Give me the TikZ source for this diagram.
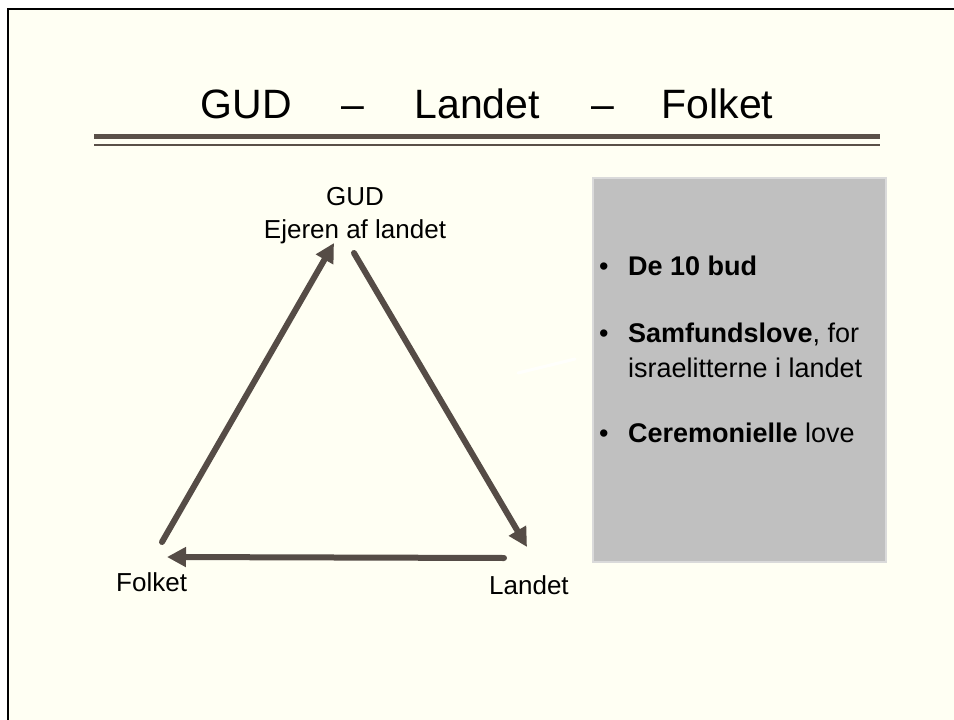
\documentclass[tikz,border=0pt]{standalone}
\usepackage{fontspec}
\setmainfont{Liberation Sans}
\usetikzlibrary{arrows.meta}
\definecolor{bg}{HTML}{FFFFF3}
\definecolor{arr}{HTML}{554C46}
\definecolor{rulecol}{HTML}{5A5048}
\definecolor{boxfill}{HTML}{C0C0C0}
\definecolor{boxline}{HTML}{DADADA}
\begin{document}
\begin{tikzpicture}[x=1pt,y=-1pt,
  conn/.style={draw=arr, line width=6pt, line cap=round, -{Triangle[length=19pt,width=19pt]}},
  lbl/.style={font=\fontsize{26}{32}\selectfont, inner sep=0pt},
  ttl/.style={font=\fontsize{41}{48}\selectfont, inner sep=0pt, anchor=base},
  bul/.style={font=\fontsize{27}{35}\selectfont, inner sep=0pt, anchor=base west},
  panel/.style={draw=boxline, fill=boxfill, line width=1.5pt, inner sep=0pt}]
\useasboundingbox (0,0) rectangle (954,720);
\fill[white] (0,0) rectangle (954,720);
\fill[bg] (8,9) rectangle (954,720);
\draw[black, line width=2.5pt] (8,725) -- (8,9) -- (960,9);
% title
\node[ttl] (title) at (487,118) {GUD\hspace{50pt}–\hspace{50pt}Landet\hspace{52pt}–\hspace{47pt}Folket};
\draw[rulecol, line width=4.5pt] (94,136.5) -- (880,136.5);
\draw[rulecol, line width=2pt] (94,145) -- (880,145);
% labels
\node[lbl, anchor=base] (gud) at (355,205.7) {GUD};
\node[lbl, anchor=base] (ejer) at (355,238) {Ejeren af landet};
\node[lbl, anchor=base west] (folket) at (116,591) {Folket};
\node[lbl, anchor=base west] (landet) at (489,594) {Landet};
% arrow endpoints
\coordinate (a1s) at (162,542);
\coordinate (a1e) at (334,243);
\coordinate (a2s) at (354,253);
\coordinate (a2e) at (527,547);
\coordinate (a3s) at (504,558);
\coordinate (a3e) at (167,557);
\draw[conn] (a1s) -- (a1e);
\draw[conn] (a2s) -- (a2e);
\draw[conn] (a3s) -- (a3e);
% faint white stroke
\coordinate (w1) at (518,373);
\coordinate (w2) at (575,359);
\draw[white, line width=3pt, opacity=0.8, line cap=round] (w1) -- (w2);
% panel
\node[panel, minimum width=293pt, minimum height=384pt] (box) at (739.5,370) {};
\node[bul] (list) at (599,275) {\begin{tabular}[t]{@{}l@{\hspace{19.5pt}}l@{}}
•&\textbf{De 10 bud}\\[32pt]
•&\textbf{Samfundslove}, for\\
 &israelitterne i landet\\[30pt]
•&\textbf{Ceremonielle} love
\end{tabular}};
\end{tikzpicture}
\end{document}
